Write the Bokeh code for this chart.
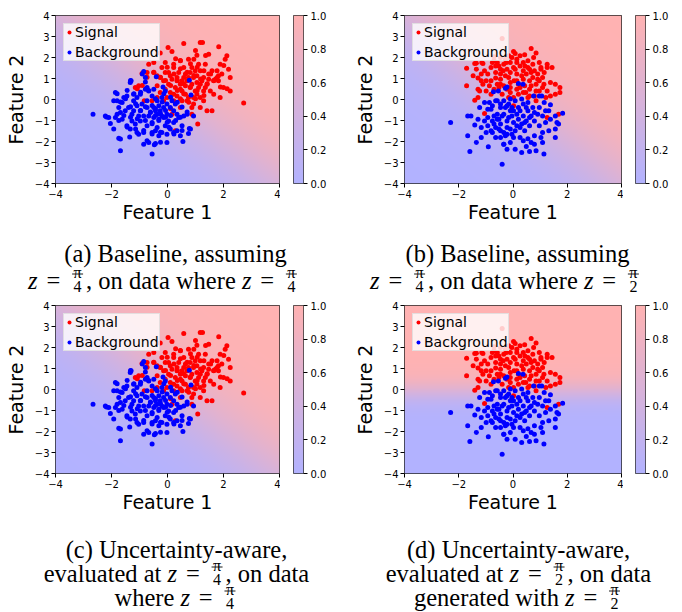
import re
import numpy as np
from bokeh.plotting import figure
from bokeh.models import (Range1d, FixedTicker, LinearColorMapper, PrintfTickFormatter,
                          Legend, LegendItem, ColumnDataSource)
from bokeh.layouts import column, row
from bokeh.embed import file_html
from bokeh.resources import INLINE
from bokeh.core.properties import value

# ---------------- data ----------------
# dataset used in panels (a) and (c): z = pi/4
signal_a = [(0.58,2.67),(1.17,2.71),(1.25,2.71),(1.83,2.51),(0.02,2.48),(0.16,2.29),(-0.26,2.21),(-0.67,1.68),
    (-0.49,1.76),(-0.2,1.52),(-0.08,1.76),(0.46,1.84),(0.75,1.92),(0.94,1.92),(1.05,2.11),(1.47,2.16),(2.12,2.08),
    (2.06,1.92),(1.88,1.68),(2.18,1.44),(1.94,1.21),(1.77,1.05),(1.65,0.89),(2.24,0.41),(2.72,-0.17),(1.88,0.1),
    (1.41,-0.54),(1.59,-0.54),(1.08,-1.17),(0.87,-0.38),(0.7,-0.06),(0.22,-0.06),(-0.02,0.1),(-0.26,0.33),
    (-0.37,0.65),(-1.15,0.57),(-1.03,0.65),(-0.91,1.24),(-0.83,-0.06),(0.28,-1.49),(0.16,-0.7),(0.34,1.05),
    (0.1,1.13),(0.52,0.89),(0.64,1.21),(1.17,1.37),(1.29,1.05),(1.41,0.73),(1.17,0.73),(1.53,0.41),(1.17,0.1),
    (0.99,0.41),(0.81,0.57),(0.52,0.41),(0.28,0.57),(0.04,0.73),(-0.14,0.89),(-0.37,1.13),(-0.49,1.29),(0.22,1.52),
    (0.58,1.52),(0.87,1.52),(1.11,1.68),(1.35,1.68),(1.59,1.37),(1.71,0.97),(1.82,0.89),(1.65,0.25),(1.29,-0.06),
    (0.93,-0.22),(0.52,-0.06),(0.34,0.17),(0.1,0.33),(-0.14,-0.06),(-0.08,0.49),(0.46,0.73),(0.7,0.89),(0.93,1.05),
    (1.05,0.81),(0.75,0.1),(0.93,0.1),(-0.37,0.1),(-0.55,-0.06),(0.46,-0.38),(1.17,-0.38),(2.24,1.05),(2.0,0.57),
    (0.87,-0.7),(-0.08,1.29),(0.40,1.29),(0.75,1.05),(-0.73,1.29),(0.22,1.68),(0.99,1.37),(1.47,1.21),(1.29,0.41),
    (1.82,1.13),(0.34,0.89),(0.16,0.97),(0.58,1.05),(0.81,1.29),(1.05,1.13),(1.23,0.89),(1.47,0.97),(0.64,0.65),
    (0.87,0.73),(1.11,0.57),(1.35,0.57),(0.46,0.49),(0.22,0.25),(0.64,0.25),(1.05,0.25),(0.04,1.29),(-0.26,1.05),
    (0.46,1.86),(0.82,1.7),(1.06,1.54),(1.3,1.37),(1.54,1.22),(1.65,0.9),(1.42,0.75),(1.18,0.98),(0.94,1.14),
    (0.7,1.3),(0.46,1.46),(0.23,1.22),(0.35,0.9),(0.58,0.75),(0.82,0.59),(1.06,0.43),(0.58,0.27),(0.35,0.43),
    (0.11,0.67),(-0.07,0.9),(-0.25,1.06),(-0.49,1.3),(-0.73,1.06),(-0.9,0.67),(-1.08,0.51),(1.77,1.37),(2.01,1.62),
    (1.89,0.59),(1.3,0.19),(1.0,0.03),(0.76,-0.13),(0.46,0.03),(0.11,-0.44),(-0.01,1.54),(0.29,1.94),(1.0,2.33),
    (1.36,2.1),(2.13,0.51)]
background_a = [(-2.66,-0.7),(-2.22,-0.78),(-2.18,-0.83),(-2.04,-1.14),(-1.92,-1.41),(-1.74,-1.84),(-1.68,-2.44),
    (-1.86,0.33),(-1.8,-0.06),(-1.92,-0.06),(-1.74,-0.38),(-1.86,-0.86),(-1.62,-0.94),(-1.45,-1.25),(-1.35,-1.78),
    (-1.33,0.81),(-1.3,0.89),(-1.45,0.17),(-1.21,-0.06),(-1.09,-0.3),(-1.51,-0.54),(-1.27,-0.7),(-1.09,-1.57),
    (-1.03,-1.65),(-0.85,-2.13),(-0.67,-2.05),(-0.55,-2.6),(-0.47,-2.16),(-0.43,-2.1),(-0.02,-2.05),(-0.85,1.33),
    (-0.79,1.05),(-0.4,1.08),(-0.79,0.49),(-0.73,0.57),(-0.67,0.41),(-0.49,0.49),(-0.16,0.6),(-0.08,0.41),
    (-0.02,-0.22),(0.1,-0.38),(0.16,-0.06),(0.28,-0.22),(0.34,-0.7),(0.4,-0.86),(0.22,-1.1),(0.1,-1.41),(0.22,-1.57),
    (0.46,-1.73),(0.55,-2.0),(0.75,-1.62),(0.78,-1.38),(0.58,-0.78),(0.7,-0.7),(0.93,-0.78),(0.84,0.22),(0.78,0.92),
    (-0.97,0.25),(-1.09,0.1),(-0.97,-0.54),(-0.85,-0.78),(-0.73,-0.38),(-0.61,-0.62),(-0.49,-0.86),(-0.37,-0.7),
    (-0.26,-0.54),(-0.31,-0.94),(-0.14,-0.86),(-0.55,-1.1),(-0.73,-1.25),(-0.37,-1.33),(-0.2,-1.57),(-0.31,-1.73),
    (-0.55,-1.57),(-0.97,-1.02),(-1.15,-1.17),(-1.27,-1.02),(-1.39,-0.38),(-1.62,-0.14),(-1.56,0.1),(-1.68,-0.62),
    (-1.21,-0.54),(-1.03,-0.78),(-0.49,-0.38),(-0.31,-0.3),(-0.14,-0.38),(-0.02,-0.7),(0.04,-1.02),(-0.08,-1.25),
    (-0.73,-0.06),(-0.55,0.17),(-0.37,-0.06),(-0.2,0.1),(0.22,-0.54),(0.52,-1.25),(0.34,-1.49),(-1.33,-1.41),
    (-0.85,-1.57),(-0.43,-1.49),(-0.02,-1.65),(-1.8,-0.7),(-2.1,-0.86),(-1.21,0.25),(-0.91,-0.22),(-0.67,-0.78),
    (-0.43,-0.54),(-0.2,-0.78),(-1.8,0.27),(-1.68,-0.12),(-1.5,0.03),(-1.32,-0.35),(-1.14,-0.2),(-0.96,-0.52),
    (-0.79,-0.35),(-0.61,-0.6),(-0.43,-0.44),(-0.25,-0.68),(-0.07,-0.52),(0.11,-0.76),(0.29,-1.0),(-0.01,-1.08),
    (-0.31,-1.0),(-0.55,-1.16),(-0.79,-1.0),(-1.08,-0.92),(-1.32,-0.84),(-1.56,-0.76),(-1.74,-1.0),(-1.44,-1.32),
    (-1.14,-1.4),(-0.85,-1.48),(-0.55,-1.64),(-0.25,-1.56),(0.05,-1.32),(0.46,-0.84),(0.7,-0.6),(0.52,-0.36),
    (0.35,-0.13),(0.11,0.11),(-0.13,0.27),(-0.43,0.03),(-0.67,0.43),(-0.79,0.83),(-0.9,1.22),(-1.32,0.9),
    (-1.44,0.43),(-1.2,0.27),(-0.96,0.35),(-0.19,-0.12),(-0.55,-0.28),(-0.07,-0.84),(-0.43,-0.76),(0.23,-1.64),
    (0.52,-1.48),(0.82,-1.4),(-1.68,-1.88),(-0.73,-1.96),(-0.25,-2.04)]

# dataset used in panels (b) and (d): z = pi/2
signal_b = [(-0.4,2.9),(0.67,2.43),(0.85,2.21),(0.43,2.13),(0.02,2.29),(0.08,2.19),(-0.16,2.08),(-0.46,2.0),
    (-0.7,2.03),(-0.76,1.76),(-0.64,1.6),(-1.41,1.71),(-1.35,1.73),(-1.15,1.76),(-1.11,1.71),(-1.71,1.49),
    (-1.47,1.13),(-1.29,1.02),(-1.17,0.89),(-1.71,0.65),(-1.29,0.49),(-1.23,0.41),(-0.99,0.41),(-0.81,0.25),
    (-1.41,-0.03),(-1.29,0.1),(-1.05,-0.67),(-1.05,1.37),(-0.93,1.21),(-0.81,0.89),(-0.64,1.29),(-0.46,1.44),
    (-0.34,1.68),(-0.1,1.76),(0.14,1.92),(0.38,1.76),(0.55,1.84),(0.73,1.68),(0.97,1.76),(1.26,1.68),(1.44,1.52),
    (1.26,1.52),(1.38,0.81),(1.09,1.05),(0.91,1.21),(0.61,1.44),(0.38,1.37),(0.14,1.21),(-0.1,1.29),(-0.28,1.13),
    (-0.46,0.97),(-0.58,0.73),(-0.34,0.65),(-0.1,0.81),(0.14,0.89),(0.38,0.97),(0.61,0.89),(0.85,0.73),(1.09,0.57),
    (1.26,0.41),(1.38,0.17),(1.56,0.25),(1.73,0.57),(1.73,0.33),(1.68,-0.7),(1.26,-0.86),(0.85,-0.06),(0.61,0.17),
    (0.38,0.33),(0.14,0.49),(-0.1,0.33),(0.02,0.1),(0.02,-0.3),(0.79,0.17),(0.97,0.41),(0.43,0.65),(0.2,0.73),
    (0.61,0.49),(0.85,0.41),(1.14,0.73),(-0.64,1.02),(-0.81,1.52),(-0.46,1.21),(-0.22,1.44),(0.02,1.52),(0.26,1.6),
    (0.55,1.52),(0.79,1.37),(1.03,1.44),(0.14,1.76),(-0.28,1.92),(-0.58,1.76),(-0.52,0.57),(-0.22,0.49),(0.32,1.13),
    (0.49,1.21),(0.73,1.05),(0.97,0.89),(-0.87,0.65),(-1.11,0.73),(-0.7,1.84),(-0.52,1.6),(-0.36,1.37),(-0.16,1.05),
    (0.04,0.89),(0.26,0.57),(0.47,0.33),(0.67,0.65),(0.91,0.97),(1.15,1.29),(1.03,1.52),(0.76,2.0),(0.26,2.08),
    (-0.04,2.0),(-0.24,1.76),(-0.46,0.73),(-0.7,0.49),(-0.99,0.89),(-1.17,1.21),(-1.35,1.44),(0.55,0.1),(0.2,0.25),
    (-0.16,0.1),(-0.4,0.25),(1.56,0.73),(1.21,0.1),(0.44,1.6),(0.67,1.29),(0.08,1.44),(-0.1,0.57)]
background_b = [(-2.3,-1.1),(-1.67,-0.78),(-1.55,-0.79),(-1.67,-1.73),(-1.59,-2.48),(-1.41,-1.21),(-1.35,-2.05),
    (-1.17,-1.81),(-1.29,-0.94),(-1.17,-1.33),(-0.99,-1.57),(-0.91,-2.25),(-0.4,-3.08),(-0.22,-2.37),(0.08,-2.37),
    (0.32,-2.52),(0.61,-2.48),(0.85,-2.44),(1.14,-2.6),(0.49,-2.24),(0.79,-2.13),(1.09,-2.05),(1.56,-1.81),
    (1.56,-1.41),(1.62,-1.1),(1.68,-1.17),(1.56,-0.78),(1.83,-0.65),(1.38,-0.25),(1.2,-0.54),(1.09,-0.78),
    (1.06,0.17),(0.97,0.17),(0.76,0.17),(0.37,0.73),(0.2,0.76),(-0.22,0.6),(-0.28,0.54),(-0.72,0.37),(-0.54,0.41),
    (-1.05,-0.14),(-0.87,-0.14),(-0.81,-0.46),(-0.93,-0.86),(-0.76,-1.02),(-0.64,-1.33),(-0.58,-0.7),(-0.46,-0.38),
    (-0.34,-0.06),(-0.16,-0.22),(0.02,-0.54),(0.2,-0.38),(0.38,-0.22),(0.55,-0.54),(0.73,-0.38),(0.91,-0.7),
    (0.79,-1.02),(0.61,-1.25),(0.43,-1.49),(0.26,-1.81),(-0.04,-1.65),(-0.28,-1.73),(-0.46,-1.49),(-0.22,-1.33),
    (0.02,-1.1),(0.2,-0.94),(0.38,-0.78),(-0.16,-0.86),(-0.34,-0.7),(-0.52,-0.94),(-0.7,-0.78),(0.14,-1.25),
    (0.49,-1.02),(0.97,-1.25),(1.2,-1.1),(1.09,-1.57),(0.79,-1.73),(0.55,-1.87),(-0.1,-2.05),(-0.34,-2.13),
    (-0.76,-1.57),(-0.64,-1.81),(-0.93,-1.25),(-1.05,-1.02),(-0.1,0.02),(0.08,-0.06),(0.32,0.02),(0.55,-0.14),
    (-0.58,-0.06),(-0.76,-0.3),(-0.28,-0.38),(-0.1,-0.54),(-0.46,-1.17),(0.32,-1.17),(0.67,-0.78),(1.32,-0.54),
    (-0.64,-0.06),(-0.46,-0.22),(-0.22,-0.3),(-0.04,-0.38),(0.14,-0.7),(-0.04,-0.78),(-0.22,-1.02),(-0.4,-0.78),
    (-0.58,-0.94),(-0.7,-1.17),(-0.52,-1.41),(-0.34,-1.57),(-0.1,-1.41),(0.08,-1.49),(0.26,-1.33),(0.43,-1.1),
    (0.61,-0.86),(0.79,-0.62),(0.97,-0.38),(1.15,-0.14),(0.49,-0.38),(0.26,-0.54),(-0.22,-1.65),(0.02,-1.81),
    (0.38,-1.97),(0.67,-2.05),(-0.46,-1.81),(-0.81,-1.49),(-0.93,-0.46),(-1.23,-0.38),(-0.34,-2.13),(1.03,-1.81),
    (1.32,-1.49),(1.38,-0.94)]

series_labels = ["Signal", "Background"]
series_colors = ["#ff0000", "#0000ff"]
axis_titles = ["Feature 1", "Feature 2"]
x_ticks = [-4, -2, 0, 2, 4]
y_ticks = [-4, -3, -2, -1, 0, 1, 2, 3, 4]
cb_ticks = [0.0, 0.2, 0.4, 0.6, 0.8, 1.0]

# classifier output surfaces: p = logistic(wx*x + wy*y + b)
surface_baseline = [0.8, 0.8, 0.0]
surface_aware_half_pi = [0.0, 3.0, 0.3]

captions_top = [["(a) Baseline, assuming", "z = π/4, on data where z = π/4"],
                ["(b) Baseline, assuming", "z = π/4, on data where z = π/2"]]
captions_bottom = [["(c) Uncertainty-aware,", "evaluated at z = π/4, on data", "where z = π/4"],
                   ["(d) Uncertainty-aware,", "evaluated at z = π/2, on data", "generated with z = π/2"]]

# ---------------- styling ----------------
SANS = "DejaVu Sans"
SERIF = "Liberation Serif"


def blend(t):
    r = 255 * (0.7 + 0.3 * t)
    g = 255 * 0.7
    b = 255 * (0.7 + 0.3 * (1 - t))
    return "#%02x%02x%02x" % (int(round(r)), int(round(g)), int(round(b)))


PALETTE = [blend(i / 255) for i in range(256)]
FRAME_W, FRAME_H, BOTTOM = 224, 168, 48


def minus(v):
    return str(v).replace("-", "\u2212")


def make_panel(sig, bkg, surface, width, left, top, mapper):
    p = figure(width=width, height=top + FRAME_H + BOTTOM, x_range=Range1d(-4, 4), y_range=Range1d(-4, 4),
               output_backend="svg", toolbar_location=None,
               min_border_left=left, min_border_right=width - left - FRAME_W,
               min_border_top=top, min_border_bottom=BOTTOM)
    p.grid.visible = False
    p.outline_line_color = "black"
    p.outline_line_width = 1
    p.outline_line_alpha = 0.85

    g = np.linspace(-4, 4, 240)
    X, Y = np.meshgrid(g, g)
    Z = 1.0 / (1.0 + np.exp(-(surface[0] * X + surface[1] * Y + surface[2])))
    p.image(image=[Z], x=-4, y=-4, dw=8, dh=8, color_mapper=mapper)

    rs = p.scatter([q[0] for q in sig], [q[1] for q in sig], size=5,
                   fill_color=series_colors[0], line_color=None)
    rb = p.scatter([q[0] for q in bkg], [q[1] for q in bkg], size=5,
                   fill_color=series_colors[1], line_color=None)

    legend = Legend(items=[LegendItem(label=series_labels[0], renderers=[rs]),
                           LegendItem(label=series_labels[1], renderers=[rb])],
                    location="top_left", margin=8, padding=0, spacing=4,
                    glyph_width=10, glyph_height=12, label_height=12, label_standoff=1,
                    label_text_font=SANS, label_text_font_size="14px", label_text_color="black",
                    background_fill_color="white", background_fill_alpha=0.8,
                    border_line_color="#cccccc", border_line_width=1)
    p.add_layout(legend)

    for ax, ticks, title, stand in ((p.xaxis, x_ticks, axis_titles[0], 0),
                                     (p.yaxis, y_ticks, axis_titles[1], 5)):
        ax.ticker = FixedTicker(ticks=ticks)
        ax.major_label_overrides = {t: minus(t) for t in ticks}
        ax.axis_label = title
        ax.axis_label_text_font = SANS
        ax.axis_label_text_font_size = "19px"
        ax.axis_label_text_font_style = "normal"
        ax.axis_label_text_color = "black"
        ax.axis_label_standoff = stand
        ax.major_label_standoff = 2
        ax.major_label_text_font = SANS
        ax.major_label_text_font_size = "10px"
        ax.major_label_text_color = "black"
        ax.axis_line_color = None
        ax.major_tick_out = 4
        ax.major_tick_in = 0
        ax.major_tick_line_color = "black"
        ax.minor_tick_line_color = None
    return p


def make_colorbar(width, left, top, mapper):
    p = figure(width=width, height=top + FRAME_H + BOTTOM, x_range=Range1d(0, 1), y_range=Range1d(0, 1),
               output_backend="svg", toolbar_location=None,
               min_border_left=left, min_border_right=width - left - 10,
               min_border_top=top, min_border_bottom=BOTTOM,
               x_axis_location=None, y_axis_location="right")
    p.grid.visible = False
    ramp = np.linspace(0, 1, 256).reshape(256, 1)
    p.image(image=[ramp], x=0, y=0, dw=1, dh=1, color_mapper=mapper)
    p.outline_line_color = "#333333"
    p.outline_line_width = 1
    ax = p.yaxis[0]
    ax.ticker = FixedTicker(ticks=cb_ticks)
    ax.formatter = PrintfTickFormatter(format="%.1f")
    ax.major_label_standoff = 3
    ax.major_label_text_font = SANS
    ax.major_label_text_font_size = "10px"
    ax.major_label_text_color = "black"
    ax.axis_line_color = None
    ax.major_tick_out = 4
    ax.major_tick_in = 0
    ax.major_tick_line_color = "black"
    ax.minor_tick_line_color = None
    return p


# ---------------- captions ----------------
TIMES = {' ': 250, '(': 333, ')': 333, ',': 250, '-': 333, '=': 564,
         'a': 444, 'b': 500, 'c': 444, 'd': 500, 'e': 444, 'f': 333, 'g': 500, 'h': 500, 'i': 278,
         'j': 278, 'k': 500, 'l': 278, 'm': 778, 'n': 500, 'o': 500, 'p': 500, 'q': 500, 'r': 333,
         's': 389, 't': 278, 'u': 500, 'v': 500, 'w': 722, 'x': 500, 'y': 500, 'z': 444,
         'B': 667, 'U': 722}
FS = 24.5
FRAC_FS = 16
EQ_GAP = 0.36
FRAC_W = 17
BAR_W = 11


def text_w(s):
    return sum(TIMES.get(ch, 500) for ch in s) / 1000.0 * FS


def make_caption(blocks, centers, baselines, width, height):
    p = figure(width=width, height=height, x_range=Range1d(0, width), y_range=Range1d(height, 0),
               output_backend="svg", toolbar_location=None, min_border=0,
               x_axis_location=None, y_axis_location=None)
    p.grid.visible = False
    p.outline_line_color = None
    norm = dict(x=[], y=[], text=[])
    ital = dict(x=[], y=[], text=[])
    frac = dict(x=[], y=[], text=[])
    bars = dict(x0=[], x1=[], y=[])
    for lines, cxs in zip(blocks, centers):
        for line, cx, by in zip(lines, cxs, baselines):
            items = []
            for part in re.split(r"(z = π/\d)", line):
                if not part:
                    continue
                m = re.fullmatch(r"z = π/(\d)", part)
                if m:
                    items += [("i", "z", 0.389 * FS), ("g", "", EQ_GAP * FS), ("t", "=", 0.564 * FS),
                              ("g", "", EQ_GAP * FS), ("f", m.group(1), FRAC_W)]
                else:
                    items.append(("t", part, text_w(part)))
            total = sum(w for _, _, w in items)
            x = cx - total / 2.0
            for kind, s, w in items:
                if kind == "t":
                    norm["x"].append(x); norm["y"].append(by); norm["text"].append(s)
                elif kind == "i":
                    ital["x"].append(x); ital["y"].append(by); ital["text"].append(s)
                elif kind == "f":
                    mid = x + w / 2.0
                    bar_y = by - 6.5
                    bars["x0"].append(mid - BAR_W / 2.0); bars["x1"].append(mid + BAR_W / 2.0)
                    bars["y"].append(bar_y)
                    frac["x"] += [mid, mid]
                    frac["y"] += [bar_y - 2, bar_y + 12]
                    frac["text"] += ["π", s]
                x += w
    common = dict(text_font=value(SERIF), text_color="black", text_baseline="alphabetic")
    p.text(x="x", y="y", text="text", source=ColumnDataSource(norm), text_align="left",
           text_font_size=value("%spx" % FS), **common)
    p.text(x="x", y="y", text="text", source=ColumnDataSource(ital), text_align="left",
           text_font_size=value("%spx" % FS), text_font_style="italic", **common)
    p.text(x="x", y="y", text="text", source=ColumnDataSource(frac), text_align="center",
           text_font_size=value("%spx" % FRAC_FS), **common)
    p.segment(x0="x0", y0="y", x1="x1", y1="y", source=ColumnDataSource(bars),
              line_color="black", line_width=0.9)
    return p


mapper = LinearColorMapper(palette=PALETTE, low=0, high=1)

pa = make_panel(signal_a, background_a, surface_baseline, 280, 55, 15, mapper)
ca = make_colorbar(70, 13, 15, mapper)
pb = make_panel(signal_b, background_b, surface_baseline, 273, 47, 15, mapper)
cb = make_colorbar(58, 12, 15, mapper)

pc = make_panel(signal_a, background_a, surface_baseline, 280, 55, 7, mapper)
cc = make_colorbar(70, 13, 7, mapper)
pd = make_panel(signal_b, background_b, surface_aware_half_pi, 273, 47, 7, mapper)
cd = make_colorbar(58, 12, 7, mapper)

cap_top = make_caption(captions_top, [[175, 163.5], [517, 505.5]], [22, 49], 681, 67)
cap_bottom = make_caption(captions_bottom, [[176, 176, 176], [518, 518, 518]], [28, 52, 76], 681, 90)

layout = column(row(pa, ca, pb, cb), cap_top, row(pc, cc, pd, cd), cap_bottom)

open("out.html", "w").write(file_html(layout, INLINE))
